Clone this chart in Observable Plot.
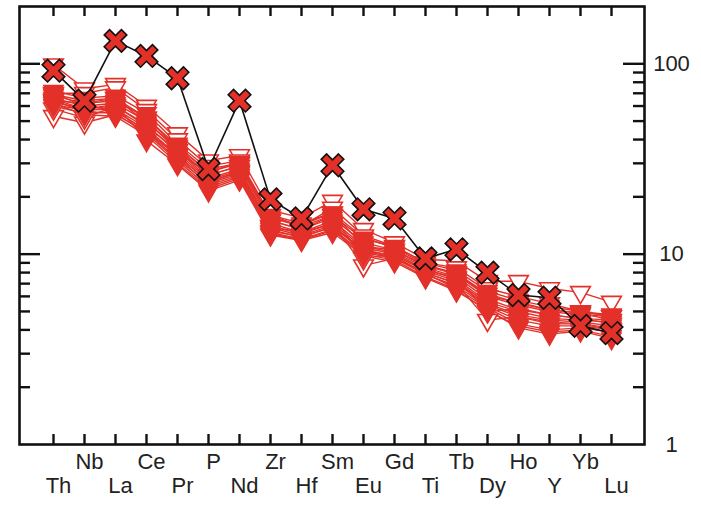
<!DOCTYPE html>
<html>
<head>
<meta charset="utf-8">
<script src="https://cdn.jsdelivr.net/npm/d3@7"></script>
<script src="https://cdn.jsdelivr.net/npm/@observablehq/plot@0.6"></script>
<style>
  html, body { margin: 0; padding: 0; background: #fff; }
</style>
</head>
<body>
<div id="chart"></div>
<script>
const elements = ["Th","Nb","La","Ce","Pr","P","Nd","Zr","Hf","Sm","Eu","Gd","Ti","Tb","Dy","Ho","Y","Yb","Lu"];
const yTickLabels = [1, 10, 100];
const majorTicks = [10, 100];
const minorTicks = [2,3,4,5,6,7,8,9,20,30,40,50,60,70,80,90];

// highlighted sample (black-outlined crosses)
const sampleValues = [92, 64, 132, 110, 84, 28, 64, 19.4, 15.4, 29.3, 17.2, 15.4, 9.5, 10.6, 8.0, 6.1, 5.9, 4.2, 3.85];

// open (hollow) triangle series
const open1 = [99, 74, 78, 60, 43, 31, 33, 17, 15.5, 19, 13.5, 11.5, 9.4, 9.2, 7.2, 7.2, 6.6, 6.3, 5.6];
const open2 = [53, 49, 54, 44, 33, 24, 27, 14, 13, 14.5, 8.7, 9.5, 8.0, 7.0, 4.5, 4.7, 4.3, 4.3, 4.0];
const open3 = [70, 70, 75, 57, 40, 29, 31, 16, 14, 17.5, 12.5, 11, 9, 8.5, 6.6, 6.0, 5.5, 5.0, 4.7];
const open4 = [58, 52, 60, 47, 35, 26, 29, 15, 13.5, 16, 9.5, 10, 8.3, 7.5, 5.0, 5.2, 4.8, 4.6, 4.3];
const open5 = [64, 62, 66, 52, 37, 27, 30, 15.5, 14.2, 16.5, 11, 10.5, 8.6, 8.0, 6.0, 5.6, 5.1, 4.9, 4.5];

// filled triangle series
const fill1 = [72, 66, 68, 55, 38, 28, 30, 15.5, 14, 16, 12, 11, 9.0, 8.2, 6.4, 5.7, 5.3, 5.0, 4.8];
const fill2 = [68, 62, 64, 52, 36, 26, 29, 15, 13.5, 15.5, 11.5, 10.5, 8.7, 7.8, 6.0, 5.4, 5.0, 4.8, 4.7];
const fill3 = [66, 60, 62, 50, 35, 25, 28, 14.5, 13, 15, 11, 10.2, 8.5, 7.6, 5.8, 5.1, 4.8, 4.6, 4.5];
const fill4 = [63, 58, 60, 48, 34, 24.5, 27.5, 14, 12.8, 14.5, 10.8, 10, 8.3, 7.4, 5.6, 5.0, 4.6, 4.5, 4.4];
const fill5 = [61, 57, 58, 46, 33, 24, 27, 13.8, 12.5, 14.2, 10.5, 9.8, 8.2, 7.2, 5.5, 4.8, 4.5, 4.4, 4.2];
const fill6 = [60, 55, 56, 45, 32.5, 23, 26, 13.5, 12.2, 14, 10.4, 9.6, 8.0, 7.0, 5.4, 4.7, 4.4, 4.3, 4.1];
const fill7 = [64, 56, 55, 43, 31, 22.5, 25.5, 13, 12, 13.5, 10.2, 9.5, 7.8, 6.8, 5.3, 4.5, 4.2, 4.2, 4.0];
const fill8 = [70, 60, 57, 44, 31.5, 23.5, 26.5, 13.2, 12.4, 13.8, 10.6, 9.7, 7.9, 6.6, 5.2, 4.3, 4.0, 4.1, 3.9];
const fill9 = [62, 54, 53, 42, 30, 22, 25, 12.8, 11.9, 13.3, 10.0, 9.3, 7.6, 6.5, 5.0, 4.2, 3.9, 4.0, 3.7];
const fill10 = [65, 58, 61, 39.5, 29.5, 21.5, 24.5, 12.6, 11.8, 13, 9.8, 9.1, 7.5, 6.4, 5.1, 4.1, 3.8, 3.95, 3.6];
const fill11 = [69, 64, 66, 49, 36.5, 27, 30.5, 16, 14.5, 16.5, 12.2, 10.8, 8.8, 7.9, 6.2, 5.5, 5.1, 4.9, 4.8];

const openSeries = {open1, open2, open3, open4, open5};
const filledSeries = {fill1, fill2, fill3, fill4, fill5, fill6, fill7, fill8, fill9, fill10, fill11};

const RED = "#e3312a";

function tidy(obj) {
  const rows = [];
  for (const [name, vals] of Object.entries(obj)) {
    vals.forEach((v, i) => rows.push({series: name, element: elements[i], value: v}));
  }
  return rows;
}
const openRows = tidy(openSeries);
const filledRows = tidy(filledSeries);
const allRed = openRows.concat(filledRows);
const sampleRows = sampleValues.map((v, i) => ({element: elements[i], value: v}));

// X-shaped (rotated plus) symbol, filled and outlined
const crossSymbol = {
  draw(context, size) {
    const r = Math.sqrt(size / Math.PI);
    const L = r * 1.45, w = r * 0.45;
    context.moveTo(-w, -L);
    context.lineTo(w, -L);
    context.lineTo(w, -w);
    context.lineTo(L, -w);
    context.lineTo(L, w);
    context.lineTo(w, w);
    context.lineTo(w, L);
    context.lineTo(-w, L);
    context.lineTo(-w, w);
    context.lineTo(-L, w);
    context.lineTo(-L, -w);
    context.lineTo(-w, -w);
    context.closePath();
  }
};

const W = 701, H = 506;
const mL = 19, mR = 57, mT = 6, mB = 62;
const innerW = W - mL - mR, innerH = H - mT - mB;

const chart = Plot.plot({
  width: W,
  height: H,
  marginLeft: mL,
  marginRight: mR,
  marginTop: mT,
  marginBottom: mB,
  style: {fontFamily: "'Liberation Sans', Arial, sans-serif", background: "white", color: "#222"},
  x: {type: "point", domain: elements, padding: 1, axis: null},
  y: {type: "log", domain: [1, 200], axis: null},
  marks: [
    // red series lines
    Plot.line(allRed, {x: "element", y: "value", z: "series", stroke: RED, strokeWidth: 1.4}),
    Plot.dot(openRows, {x: "element", y: "value", symbol: "triangle", rotate: 180, r: 7.3, fill: "white", stroke: RED, strokeWidth: 1.6}),
    Plot.dot(filledRows, {x: "element", y: "value", symbol: "triangle", rotate: 180, r: 7.3, fill: RED, stroke: RED, strokeWidth: 1.2}),
    // highlighted sample
    Plot.line(sampleRows, {x: "element", y: "value", stroke: "#111", strokeWidth: 1.6}),
    Plot.dot(sampleRows, {x: "element", y: "value", symbol: crossSymbol, rotate: 45, r: 8.4, fill: RED, stroke: "#111", strokeWidth: 1.6}),
    // x ticks (bottom and top, inward)
    Plot.tickX(elements, {x: d => d, insetTop: innerH - 10, stroke: "#111", strokeWidth: 2.4}),
    Plot.tickX(elements, {x: d => d, insetBottom: innerH - 10, stroke: "#111", strokeWidth: 2.4}),
    // y ticks left
    Plot.tickY(majorTicks, {y: d => d, insetRight: innerW - 21, stroke: "#111", strokeWidth: 2.4}),
    Plot.tickY(minorTicks, {y: d => d, insetRight: innerW - 11, stroke: "#111", strokeWidth: 2.4}),
    // y ticks right
    Plot.tickY(majorTicks, {y: d => d, insetLeft: innerW - 21, stroke: "#111", strokeWidth: 2.4}),
    Plot.tickY(minorTicks, {y: d => d, insetLeft: innerW - 11, stroke: "#111", strokeWidth: 2.4}),
    Plot.frame({stroke: "#111", strokeWidth: 2.6}),
    // y labels on right
    Plot.text(yTickLabels, {y: d => d, frameAnchor: "right", dx: 27, textAnchor: "middle", fontSize: 22, fill: "#222"}),
    // x labels in two rows
    Plot.text(elements.filter((d, i) => i % 2 === 1), {x: d => d, frameAnchor: "bottom", dy: 24, dx: 5, fontSize: 22, fill: "#222"}),
    Plot.text(elements.filter((d, i) => i % 2 === 0), {x: d => d, frameAnchor: "bottom", dy: 48, dx: 5, fontSize: 22, fill: "#222"})
  ]
});
document.getElementById("chart").appendChild(chart);
</script>
</body>
</html>
